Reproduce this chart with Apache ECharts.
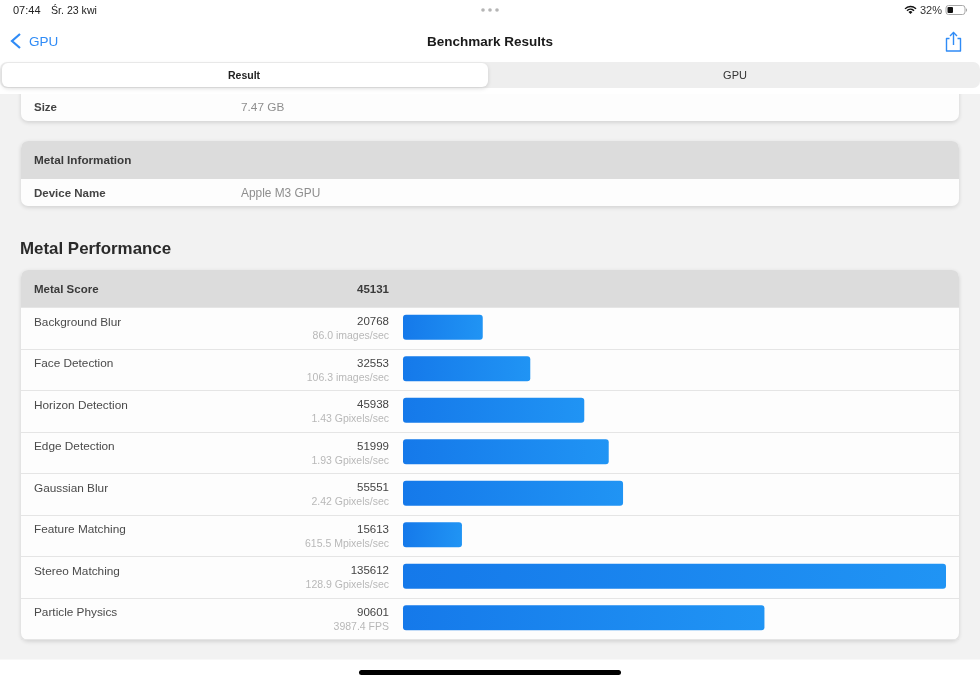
<!DOCTYPE html>
<html lang="pl">
<head>
    <meta charset="UTF-8">
    <title>Benchmark Results</title>
    <script src="https://cdn.jsdelivr.net/npm/echarts@6/dist/echarts.min.js"></script>
    <style>
        html,body{margin:0;padding:0;background:#fff}
        #main{width:980px;height:681px}
    </style>
</head>
<body>
    <div id="main"></div>
    <script>
        var categories=['Background Blur','Face Detection','Horizon Detection','Edge Detection','Gaussian Blur','Feature Matching','Stereo Matching','Particle Physics'];
        var scores=[20768,32553,45938,51999,55551,15613,135612,90601];
        var rates=['86.0 images/sec','106.3 images/sec','1.43 Gpixels/sec','1.93 Gpixels/sec','2.42 Gpixels/sec','615.5 Mpixels/sec','128.9 Gpixels/sec','3987.4 FPS'];
        var metalScore='45131';

        var font='"Liberation Sans",sans-serif';

        function txt(x,y,s,size,color,weight,align){
            return {type:'text',z:-5,silent:true,x:x,y:y,style:{text:s,font:(weight||'normal')+' '+size+'px '+font,fill:color,textAlign:align||'left',textVerticalAlign:'middle'}};
        }
        function box(x,y,w,h,r,fill,shadow){
            var st={fill:fill};
            if(shadow){st.shadowBlur=4;st.shadowOffsetY=1.5;st.shadowColor='rgba(0,0,0,0.14)';}
            return {type:'rect',z:-10,silent:true,shape:{x:x,y:y,width:w,height:h,r:r},style:st};
        }
        var blue='#2f8bf6';
        var chrome=[
            box(0,94,980,565.5,0,'#f2f2f2'),
            // top card, cut by the segment bar
            box(21,70,938,51,7,'#fdfdfd',true),
            // metal information card
            box(21,141,938,65,7,'#fdfdfd',true),
            box(21,141,938,38,[7,7,0,0],'#dcdcdc'),
            // metal performance card
            box(21,270,938,370,7,'#fdfdfd',true),
            box(21,270,938,38,[7,7,0,0],'#dcdcdc'),
            // header area above the page
            box(0,0,980,94,0,'#ffffff'),
            box(0,62,980,26,7,'#eeeeee'),
            box(2,63,486,24,6,'#ffffff',true),
            box(359,670,262,5,2.5,'#000000'),

            txt(13,11,'07:44',11,'#222'),
            txt(51,11,'Śr. 23 kwi',10.6,'#222'),
            txt(29,42,'GPU',13.5,blue),
            txt(490,42,'Benchmark Results',13.5,'#1a1a1a','bold','center'),
            txt(244,76,'Result',10.5,'#222','bold','center'),
            txt(735,76,'GPU',11,'#333','normal','center'),
            txt(34,108,'Size',11.5,'#444','bold'),
            txt(241,108,'7.47 GB',11.8,'#8e8e8e'),
            txt(34,161,'Metal Information',11.7,'#3a3a3a','bold'),
            txt(34,194,'Device Name',11.5,'#444','bold'),
            txt(241,194,'Apple M3 GPU',11.9,'#8e8e8e'),
            txt(20,249,'Metal Performance',16.9,'#2a2a2a','bold'),
            txt(34,290,'Metal Score',11.5,'#3a3a3a','bold'),
            txt(389,290,metalScore,11.5,'#3a3a3a','bold','right'),
            txt(920,11,'32%',11,'#333'),

            // status bar dots
            {type:'circle',z:-5,silent:true,shape:{cx:483,cy:10,r:1.8},style:{fill:'#b5b5b5'}},
            {type:'circle',z:-5,silent:true,shape:{cx:490,cy:10,r:1.8},style:{fill:'#b5b5b5'}},
            {type:'circle',z:-5,silent:true,shape:{cx:497,cy:10,r:1.8},style:{fill:'#b5b5b5'}},
            // back chevron
            {type:'polyline',z:-5,silent:true,shape:{points:[[20,34],[12,41],[20,48]]},style:{stroke:blue,lineWidth:2.2,fill:null}},
            // share icon
            {type:'polyline',z:-5,silent:true,shape:{points:[[949.5,38.5],[946.5,38.5],[946.5,51],[960.5,51],[960.5,38.5],[957.5,38.5]]},style:{stroke:blue,lineWidth:1.4,fill:null,lineJoin:'round'}},
            {type:'polyline',z:-5,silent:true,shape:{points:[[953.5,45],[953.5,32.5]]},style:{stroke:blue,lineWidth:1.4,fill:null}},
            {type:'polyline',z:-5,silent:true,shape:{points:[[950,36],[953.5,32.5],[957,36]]},style:{stroke:blue,lineWidth:1.4,fill:null}},
            // wifi
            {type:'sector',z:-5,silent:true,shape:{cx:910.5,cy:14,r:8.2,r0:6.8,startAngle:-Math.PI*0.76,endAngle:-Math.PI*0.24},style:{fill:'#111'}},
            {type:'sector',z:-5,silent:true,shape:{cx:910.5,cy:14,r:5.5,r0:4.1,startAngle:-Math.PI*0.76,endAngle:-Math.PI*0.24},style:{fill:'#111'}},
            {type:'sector',z:-5,silent:true,shape:{cx:910.5,cy:14,r:2.8,r0:0,startAngle:-Math.PI*0.76,endAngle:-Math.PI*0.24},style:{fill:'#111'}},
            // battery
            {type:'rect',z:-5,silent:true,shape:{x:946,y:5.5,width:19,height:9,r:2.5},style:{fill:'none',stroke:'#a8a8a8',lineWidth:1}},
            {type:'rect',z:-5,silent:true,shape:{x:947.5,y:7,width:5.5,height:6,r:1},style:{fill:'#111'}},
            {type:'rect',z:-5,silent:true,shape:{x:966,y:8.5,width:1,height:3,r:0.5},style:{fill:'#a8a8a8'}}
        ];

        var valueLabels=scores.map(function(s,i){return s+'|'+rates[i];});

        var mychart=echarts.init(document.getElementById('main'),null,{renderer:'canvas'});
        var option={
            animation:false,
            backgroundColor:'#ffffff',
            textStyle:{fontFamily:font},
            graphic:chrome,
            grid:[
                // full card width: row lines and text
                {left:21,top:307.5,width:938,height:332,containLabel:false},
                // bars only
                {left:403,top:306.5,width:543,height:332,containLabel:false}
            ],
            xAxis:[
                {type:'value',gridIndex:0,min:0,max:1,show:false},
                {
                    type:'value',
                    gridIndex:1,
                    min:1000, // the app's bars start slightly above zero
                    max:135612,
                    show:false
                }
            ],
            yAxis:[
                {
                    type:'category',
                    gridIndex:0,
                    inverse:true,
                    data:categories,
                    axisLine:{show:false},
                    axisTick:{show:false},
                    splitLine:{show:true,lineStyle:{color:'#e5e5e5',width:1}},
                    axisLabel:{
                        inside:true,
                        align:'left',
                        margin:13,
                        padding:[2,0,0,0],
                        formatter:function(v){return '{n|'+v+'}\n{b| }';},
                        rich:{
                            n:{fontFamily:font,fontSize:11.8,color:'#4a4a4a',lineHeight:14,align:'left'},
                            b:{fontSize:10,lineHeight:14}
                        }
                    }
                },
                {
                    type:'category',
                    gridIndex:0,
                    inverse:true,
                    position:'left',
                    data:valueLabels,
                    axisLine:{show:false},
                    axisTick:{show:false},
                    splitLine:{show:false},
                    axisLabel:{
                        align:'right',
                        margin:-368,
                        padding:[2,0,0,0],
                        formatter:function(v){
                            var p=v.split('|');
                            return '{s|'+p[0]+'}\n{r|'+p[1]+'}';
                        },
                        rich:{
                            s:{fontFamily:font,fontSize:11.5,color:'#444',lineHeight:14,align:'right'},
                            r:{fontFamily:font,fontSize:10.5,color:'#b8b8b8',lineHeight:14,align:'right'}
                        }
                    }
                },
                {
                    type:'category',
                    gridIndex:1,
                    inverse:true,
                    data:categories,
                    show:false
                }
            ],
            series:[
                {
                    name:'Metal Performance',
                    type:'bar',
                    xAxisIndex:1,
                    yAxisIndex:2,
                    barWidth:25,
                    data:scores,
                    itemStyle:{
                        borderRadius:3,
                        color:new echarts.graphic.LinearGradient(0,0.4,1,0.6,[
                            {offset:0,color:'#1579ea'},
                            {offset:1,color:'#2094f4'}
                        ])
                    }
                }
            ]
        };
        mychart.setOption(option);
    </script>
</body>
</html>
